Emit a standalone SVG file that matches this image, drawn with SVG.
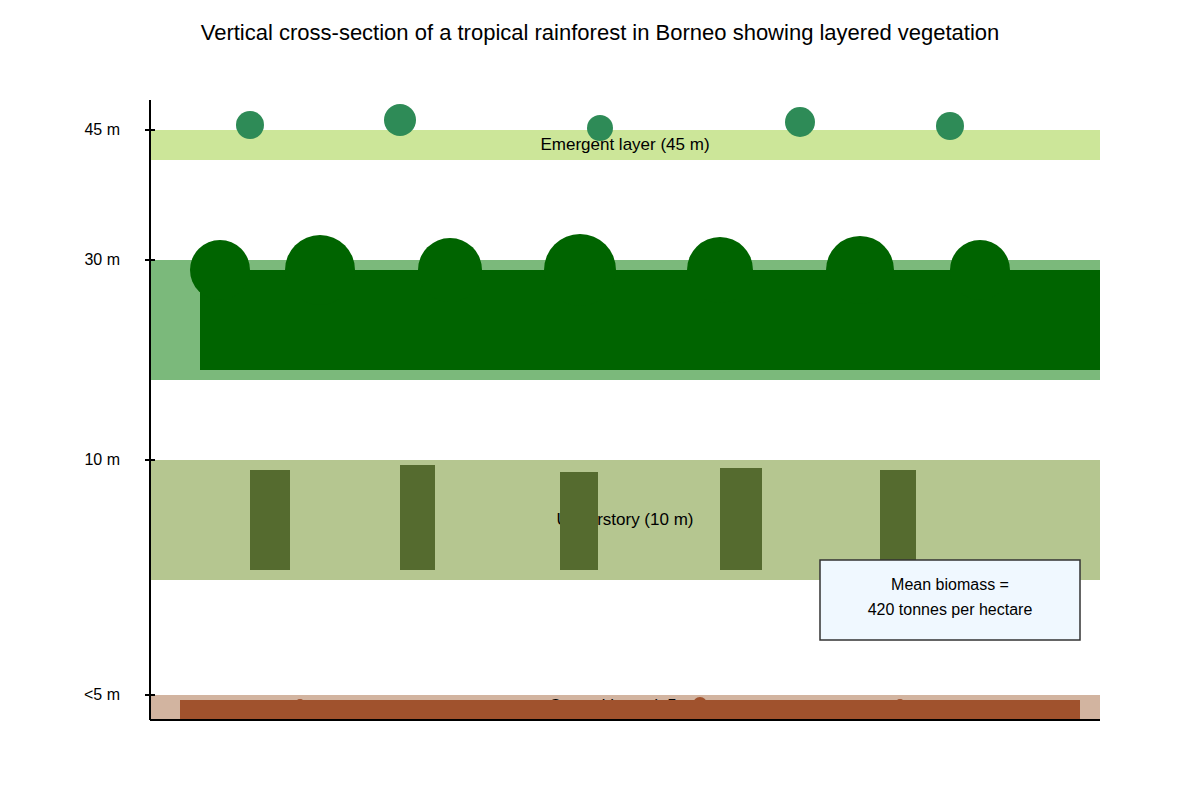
<svg xmlns="http://www.w3.org/2000/svg" width="1200" height="800" viewBox="0 0 1200 800">
<style>
text{font-family:"Liberation Sans",Arial,sans-serif;fill:#000}
.t{font-size:12px}
.emc{fill:#2e8b57}
.can{fill:#006400}
.trunk{fill:#556b2f}
.soil{fill:#a0522d}
</style>
<rect width="1200" height="800" fill="#fff"/>
<text x="600" y="40" font-size="22" text-anchor="middle">Vertical cross-section of a tropical rainforest in Borneo showing layered vegetation</text>
<g id="ground">
<rect x="150" y="695" width="950" height="25" fill="#d2b4a0"/>
<text x="625" y="711" font-size="17" text-anchor="middle">Ground layer (&lt;5 m)</text>
<circle class="soil" cx="300" cy="704" r="5"/>
<circle class="soil" cx="700" cy="704" r="7"/>
<circle class="soil" cx="900" cy="704" r="5"/>
<rect class="soil" x="180" y="700" width="900" height="20"/>
</g>
<g id="understory">
<rect x="150" y="460" width="950" height="120" fill="#b5c690"/>
<text x="625" y="525" font-size="17" text-anchor="middle">Understory (10 m)</text>
<rect class="trunk" x="250" y="470" width="40" height="100"/>
<rect class="trunk" x="400" y="465" width="35" height="105"/>
<rect class="trunk" x="560" y="472" width="38" height="98"/>
<rect class="trunk" x="720" y="468" width="42" height="102"/>
<rect class="trunk" x="880" y="470" width="36" height="100"/>
</g>
<g id="canopy">
<rect x="150" y="260" width="950" height="120" fill="#7bb97b"/>
<text x="625" y="325" font-size="17" text-anchor="middle">Canopy layer (30 m)</text>
<rect class="can" x="200" y="270" width="900" height="100"/>
<circle class="can" cx="220" cy="270" r="30"/>
<circle class="can" cx="320" cy="270" r="35"/>
<circle class="can" cx="450" cy="270" r="32"/>
<circle class="can" cx="580" cy="270" r="36"/>
<circle class="can" cx="720" cy="270" r="33"/>
<circle class="can" cx="860" cy="270" r="34"/>
<circle class="can" cx="980" cy="270" r="30"/>
</g>
<g id="emergent">
<rect x="150" y="130" width="950" height="30" fill="#cce699"/>
<text x="625" y="150" font-size="17" text-anchor="middle">Emergent layer (45 m)</text>
<circle class="emc" cx="250" cy="125" r="14"/>
<circle class="emc" cx="400" cy="120" r="16"/>
<circle class="emc" cx="600" cy="128" r="13"/>
<circle class="emc" cx="800" cy="122" r="15"/>
<circle class="emc" cx="950" cy="126" r="14"/>
</g>
<g id="axes" stroke="#000" stroke-width="2">
<line x1="150" y1="100" x2="150" y2="720"/>
<line x1="150" y1="720" x2="1100" y2="720"/>
<line x1="145" y1="130" x2="155" y2="130"/>
<line x1="145" y1="260" x2="155" y2="260"/>
<line x1="145" y1="460" x2="155" y2="460"/>
<line x1="145" y1="695" x2="155" y2="695"/>
</g>
<g id="ticks" font-size="16">
<text x="120" y="135" text-anchor="end" font-size="16">45 m</text>
<text x="120" y="265" text-anchor="end" font-size="16">30 m</text>
<text x="120" y="465" text-anchor="end" font-size="16">10 m</text>
<text x="120" y="700" text-anchor="end" font-size="16">&lt;5 m</text>
</g>
<g id="biomass">
<rect x="820" y="560" width="260" height="80" fill="#f0f8ff" stroke="#333" stroke-width="1.5"/>
<text x="950" y="590" font-size="16" text-anchor="middle">Mean biomass =</text>
<text x="950" y="615" font-size="16" text-anchor="middle">420 tonnes per hectare</text>
</g>
</svg>
